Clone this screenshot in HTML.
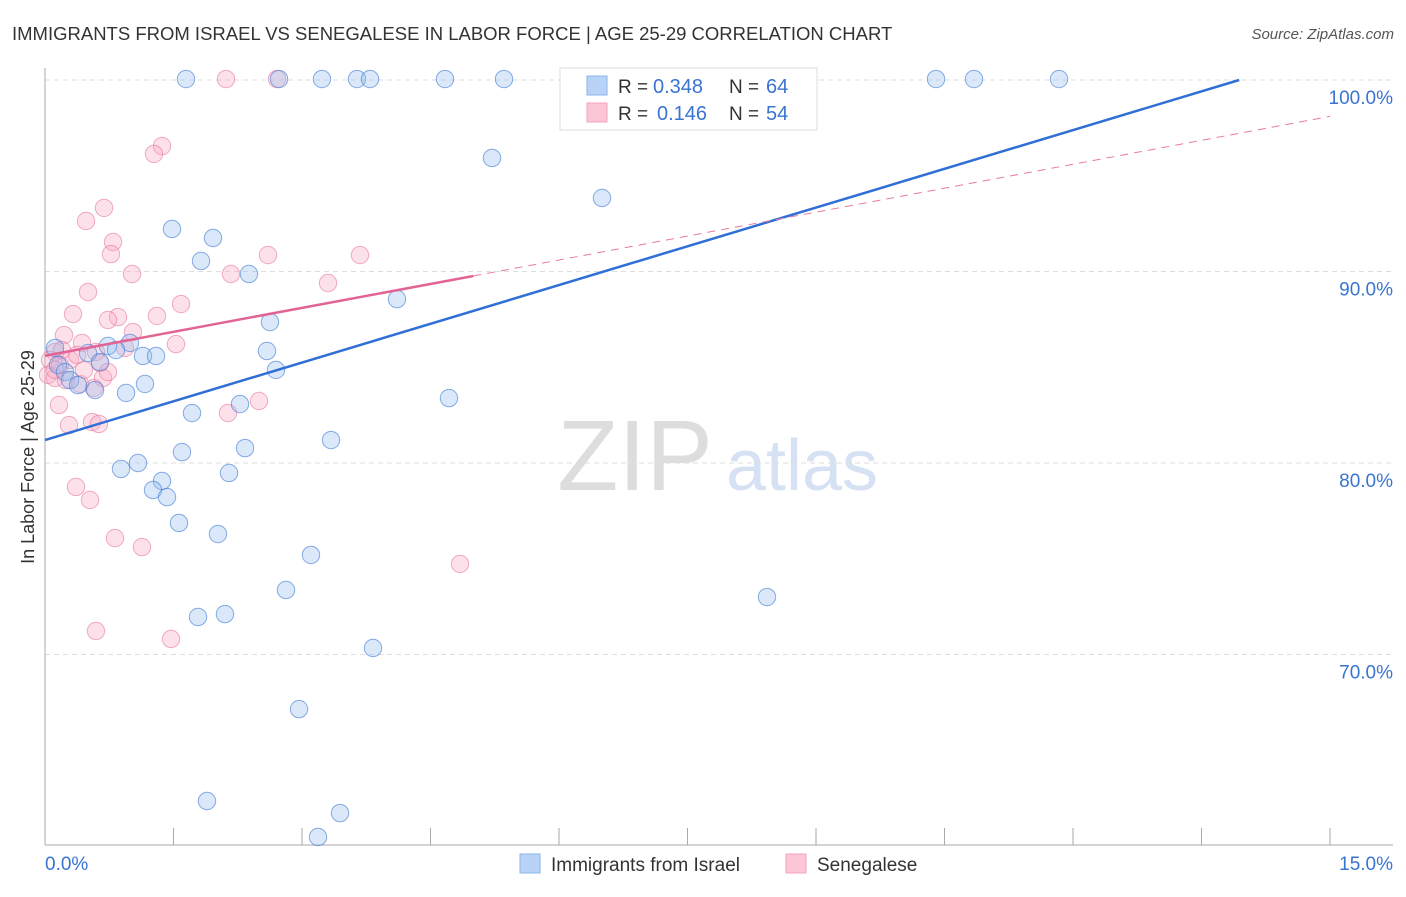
<!DOCTYPE html>
<html><head><meta charset="utf-8">
<style>
body{margin:0;background:#fff;font-family:"Liberation Sans",sans-serif;}
svg text{font-family:"Liberation Sans",sans-serif;}
</style></head>
<body>
<svg id="chart" width="1406" height="892" xmlns="http://www.w3.org/2000/svg">
<text x="12" y="40" font-size="18.5" fill="#333">IMMIGRANTS FROM ISRAEL VS SENEGALESE IN LABOR FORCE | AGE 25-29 CORRELATION CHART</text>
<text x="1394" y="39" font-size="15" fill="#555" font-style="italic" text-anchor="end">Source: ZipAtlas.com</text>
<text transform="translate(34,457) rotate(-90)" font-size="18" fill="#333" text-anchor="middle">In Labor Force | Age 25-29</text>
<g>
<text x="635" y="490" font-size="100" fill="#ddd" font-family="Liberation Serif" text-anchor="middle">ZIP</text>
<text x="802" y="490" font-size="72" fill="#d6e2f3" text-anchor="middle">atlas</text>
</g>
<g id="grid"></g>
<g id="axes"></g>
<g id="pts"></g>
<g id="lines"></g>
<g>
<rect x="560" y="68" width="257" height="62" fill="#fff" stroke="#ddd"/>
<rect x="587" y="76" width="20" height="19" fill="#b8d3f5" stroke="#8ab4ea"/>
<rect x="587" y="103" width="20" height="19" fill="#fcc6d6" stroke="#f4a4bb"/>
<text x="618" y="93" font-size="19" fill="#333">R =</text>
<text x="653" y="93" font-size="20" fill="#3a74d1">0.348</text>
<text x="729" y="93" font-size="19" fill="#333">N =</text>
<text x="766" y="93" font-size="20" fill="#3a74d1">64</text>
<text x="618" y="120" font-size="19" fill="#333">R =</text>
<text x="657" y="120" font-size="20" fill="#3a74d1">0.146</text>
<text x="729" y="120" font-size="19" fill="#333">N =</text>
<text x="766" y="120" font-size="20" fill="#3a74d1">54</text>
</g>
<g>
<rect x="520" y="854" width="20" height="19" fill="#b8d3f5" stroke="#8ab4ea"/>
<text x="551" y="871" font-size="19" fill="#333">Immigrants from Israel</text>
<rect x="786" y="854" width="20" height="19" fill="#fcc6d6" stroke="#f4a4bb"/>
<text x="817" y="871" font-size="19" fill="#333">Senegalese</text>
</g>
</svg>
<script>
const yTicks=[100,90,80,70];
const yTickLabels=["100.0%","90.0%","80.0%","70.0%"];
const xTickLabels=["0.0%","15.0%"];
const israelPx=[[186,79],[279,79],[322,79],[357,79],[370,79],[445,79],[504,79],[642,79],[936,79],[974,79],[1059,79],[492,158],[602,198],[172,229],[213,238],[201,261],[249,274],[397,299],[270,322],[267,351],[276,370],[143,356],[156,356],[130,343],[108,346],[116,350],[88,353],[100,362],[55,348],[58,365],[65,372],[70,380],[78,385],[95,390],[126,393],[145,384],[240,404],[192,413],[449,398],[331,440],[182,452],[245,448],[138,463],[121,469],[229,473],[162,481],[153,490],[167,497],[179,523],[218,534],[311,555],[286,590],[198,617],[225,614],[373,648],[767,597],[299,709],[207,801],[340,813],[318,837]];
const senegalPx=[[226,79],[277,79],[162,146],[154,154],[104,208],[86,221],[113,242],[111,254],[268,255],[360,255],[132,274],[231,274],[328,283],[88,292],[181,304],[73,314],[157,316],[118,317],[108,320],[133,332],[64,335],[176,344],[82,343],[125,348],[96,352],[55,352],[50,360],[60,365],[70,360],[100,363],[48,375],[55,378],[66,380],[80,384],[94,388],[103,378],[108,372],[259,401],[228,413],[59,405],[69,425],[92,422],[99,424],[76,487],[90,500],[115,538],[142,547],[460,564],[96,631],[171,639],[55,370],[62,350],[84,370],[77,355]];
const israelX=israelPx.map(p=>+((p[0]-45)*15/1285).toFixed(3));
const israelY=israelPx.map(p=>+(100-(p[1]-80)/19.15).toFixed(2));
const senegalX=senegalPx.map(p=>+((p[0]-45)*15/1285).toFixed(3));
const senegalY=senegalPx.map(p=>+(100-(p[1]-80)/19.15).toFixed(2));
const israelTrend=[0,81.2,13.94,100];
const senegalTrend=[0,85.6,15,98.1,5.0];

const sx=v=>45+v/15*1285;
const sy=v=>80+(100-v)*19.15;
const NS="http://www.w3.org/2000/svg";
function mk(tag,attrs,parent){const e=document.createElementNS(NS,tag);for(const k in attrs)e.setAttribute(k,attrs[k]);parent.appendChild(e);return e;}
const grid=document.getElementById('grid'),axes=document.getElementById('axes'),pts=document.getElementById('pts'),lines=document.getElementById('lines');
yTicks.forEach((t,i)=>{
 const l=mk('line',{x1:45,x2:1393,y1:sy(t),y2:sy(t),stroke:'#ddd','stroke-dasharray':'5,4'},grid);
 
 
 const tx=mk('text',{x:1393,y:sy(t)+24,'font-size':19,fill:'#3a74d1','text-anchor':'end'},axes);
 tx.textContent=yTickLabels[i];
 
 
});
mk('line',{x1:45,x2:45,y1:68,y2:845,stroke:'#aaa'},axes);
mk('line',{x1:45,x2:1393,y1:845,y2:845,stroke:'#aaa'},axes);
for(let i=1;i<=10;i++){const x=sx(i*1.5);const t=mk('line',{x1:x,x2:x,y1:828,y2:845,stroke:'#aaa'},axes);
 
 }
const xl0=mk('text',{x:45,y:870,'font-size':19,fill:'#3a74d1'},axes);xl0.textContent=xTickLabels[0];


const xl1=mk('text',{x:1393,y:870,'font-size':19,fill:'#3a74d1','text-anchor':'end'},axes);xl1.textContent=xTickLabels[1];


senegalX.forEach((x,i)=>{const c=mk('circle',{cx:sx(x),cy:sy(senegalY[i]),r:8.7,fill:'rgba(248,170,195,0.35)',stroke:'rgba(232,120,155,0.6)','stroke-width':1},pts);
 
 });
israelX.forEach((x,i)=>{const c=mk('circle',{cx:sx(x),cy:sy(israelY[i]),r:8.7,fill:'rgba(150,190,240,0.35)',stroke:'rgba(60,120,210,0.6)','stroke-width':1},pts);
 
 });
const bl=mk('line',{x1:sx(israelTrend[0]),y1:sy(israelTrend[1]),x2:sx(israelTrend[2]),y2:sy(israelTrend[3]),stroke:'#2f6fd6','stroke-width':2.5},lines);


const slope=(senegalTrend[3]-senegalTrend[1])/(senegalTrend[2]-senegalTrend[0]);
const pd=mk('line',{x1:sx(senegalTrend[4]),y1:sy(senegalTrend[1]+slope*senegalTrend[4]),x2:sx(senegalTrend[2]),y2:sy(senegalTrend[3]),stroke:'#e87aa0','stroke-width':1,'stroke-dasharray':'8,6'},lines);


const ps=mk('line',{x1:sx(senegalTrend[0]),y1:sy(senegalTrend[1]),x2:sx(senegalTrend[4]),y2:sy(senegalTrend[1]+slope*senegalTrend[4]),stroke:'#e26494','stroke-width':2.5},lines);


</script>
</body></html>
